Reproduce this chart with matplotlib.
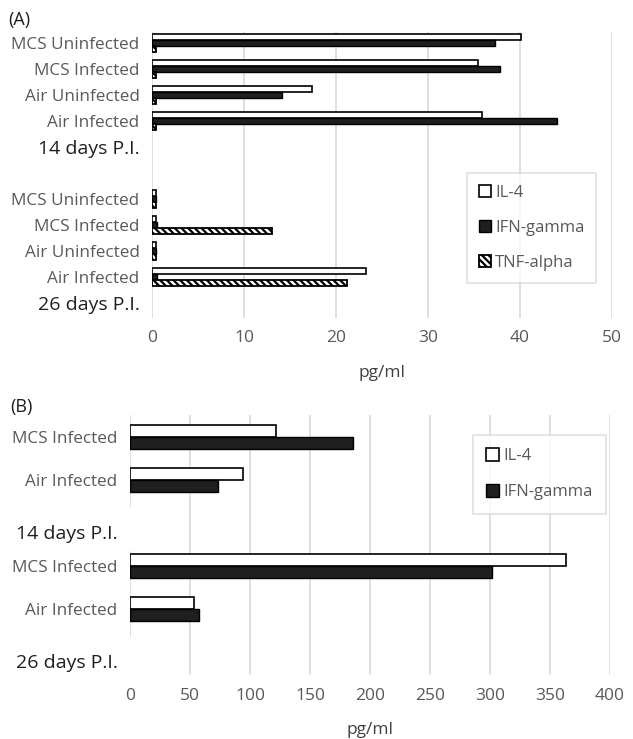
#!/usr/bin/env python3

import numpy as np
import matplotlib
matplotlib.use('Agg')
import matplotlib.pyplot as plt

plt.rcParams['font.family'] = ['Open Sans', 'DejaVu Sans']
plt.rcParams['hatch.linewidth'] = 1.6

### data
groups = ['14 days P.I.', '26 days P.I.']

# panel A
cats_a = ['MCS Uninfected', 'MCS Infected', 'Air Uninfected', 'Air Infected']
il4_a = [[40.1, 35.4, 17.4, 35.9], [0.45, 0.45, 0.45, 23.3]]
ifn_a = [[37.3, 37.8, 14.1, 44.0], [0.45, 0.5, 0.45, 0.5]]
tnf_a = [[0.45, 0.45, 0.45, 0.45], [0.45, 13.0, 0.45, 21.2]]
ticks_a = [0, 10, 20, 30, 40, 50]

# panel B
cats_b = ['MCS Infected', 'Air Infected']
il4_b = [[122, 94], [363, 53]]
ifn_b = [[186, 73.5], [302, 57.5]]
ticks_b = [0, 50, 100, 150, 200, 250, 300, 350, 400]

GRID = '#d9d9d9'
LABEL = '#595959'
DARK = '#1f1f1f'

W, H = 633, 739
fig = plt.figure(figsize=(W / 100, H / 100), dpi=100)


def px_axes(x0, y0, x1, y1):
    return fig.add_axes([x0 / W, 1 - y1 / H, (x1 - x0) / W, (y1 - y0) / H])


def style_axes(ax, ticks, ylim, rows, labels, glabels, gpos):
    ax.set_xlim(ticks[0], ticks[-1])
    ax.set_ylim(*ylim)
    for s in ax.spines.values():
        s.set_visible(False)
    ax.set_xticks(ticks)
    ax.set_yticks(list(rows) + list(gpos))
    ax.set_yticklabels(list(labels) + list(glabels))
    ax.tick_params(axis='x', length=0, pad=9, labelsize=12.5, labelcolor=LABEL)
    ax.tick_params(axis='y', length=0, pad=9)
    n = len(rows)
    for i, t in enumerate(ax.get_yticklabels()):
        if i < n:
            t.set_fontsize(12.3)
            t.set_color(LABEL)
        else:
            t.set_fontsize(14)
            t.set_color(DARK)
    ax.set_xlabel('pg/ml', fontsize=12.5, color='#404040', labelpad=13)


# ---------------- panel A ----------------
ax = px_axes(152, 32, 612, 318)
step_a, goff_a, bh_a = 6, 4, 0.23
rows, labels, gpos = [], [], []
for g in range(len(groups)):
    y = g * step_a + np.arange(len(cats_a))
    rows += list(y)
    labels += cats_a
    gpos.append(g * step_a + goff_a)
    ax.barh(y - bh_a, il4_a[g], height=bh_a, color='white', edgecolor='black',
            linewidth=1.2, zorder=3, label='IL-4' if g == 0 else None)
    ax.barh(y, ifn_a[g], height=bh_a, color=DARK, edgecolor='black',
            linewidth=1.0, zorder=3, label='IFN-gamma' if g == 0 else None)
    ax.barh(y + bh_a, tnf_a[g], height=bh_a, color='white', edgecolor='black',
            hatch='\\\\\\\\\\', linewidth=1.3, zorder=3, label='TNF-alpha' if g == 0 else None)

ylim_a = (10.58, -0.42)
ax.vlines(ticks_a, ylim_a[1], ylim_a[0], colors=GRID, linewidth=1.2, zorder=1)
style_axes(ax, ticks_a, ylim_a, rows, labels, groups, gpos)

leg = ax.legend(loc='upper left', bbox_to_anchor=(467 / W, 1 - 173 / H),
                bbox_transform=fig.transFigure, borderaxespad=0, frameon=True,
                fancybox=False, edgecolor=GRID, fontsize=12, labelcolor=LABEL,
                handlelength=0.75, handleheight=0.75, handletextpad=0.25,
                labelspacing=1.15, borderpad=0.7)
leg.get_frame().set_linewidth(1.2)
fig.text(8 / W, 1 - 20 / H, '(A)', fontsize=13, color=DARK, va='center', ha='left')

# ---------------- panel B ----------------
ax = px_axes(130, 415, 610, 675)
step_b, goff_b, bh_b = 3, 2.2, 0.28
rows, labels, gpos = [], [], []
for g in range(len(groups)):
    y = g * step_b + np.arange(len(cats_b))
    rows += list(y)
    labels += cats_b
    gpos.append(g * step_b + goff_b)
    ax.barh(y - bh_b / 2, il4_b[g], height=bh_b, color='white', edgecolor='black',
            linewidth=1.2, zorder=3, label='IL-4' if g == 0 else None)
    ax.barh(y + bh_b / 2, ifn_b[g], height=bh_b, color=DARK, edgecolor='black',
            linewidth=1.0, zorder=3, label='IFN-gamma' if g == 0 else None)

ylim_b = (5.53, -0.51)
ax.vlines(ticks_b[1:], ylim_b[1], ylim_b[0], colors=GRID, linewidth=1.2, zorder=1)
# category axis line is broken where the group labels sit
edges = [ylim_b[1]]
for p in gpos:
    edges += [p - 0.55, p + 0.45]
edges.append(ylim_b[0])
for a, b in zip(edges[::2], edges[1::2]):
    if b > a:
        ax.vlines(0, a, b, colors=GRID, linewidth=1.2, zorder=1)
style_axes(ax, ticks_b, ylim_b, rows, labels, groups, gpos)

leg = ax.legend(loc='upper left', bbox_to_anchor=(473 / W, 1 - 435 / H),
                bbox_transform=fig.transFigure, borderaxespad=0, frameon=True,
                fancybox=False, edgecolor=GRID, fontsize=12, labelcolor=LABEL,
                handlelength=0.75, handleheight=0.75, handletextpad=0.25,
                labelspacing=1.2, borderpad=0.8)
leg.get_frame().set_linewidth(1.2)
fig.text(10 / W, 1 - 407 / H, '(B)', fontsize=13, color=DARK, va='center', ha='left')

plt.savefig('out.png', dpi=100)
